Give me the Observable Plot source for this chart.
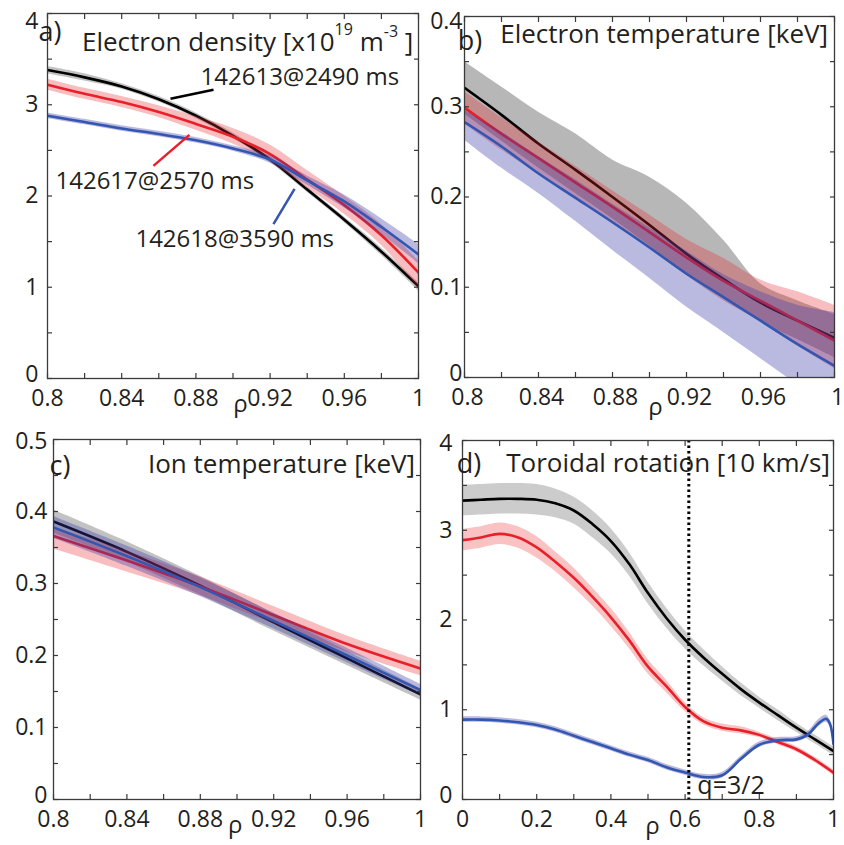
<!DOCTYPE html>
<html><head><meta charset="utf-8">
<script src="https://cdn.jsdelivr.net/npm/d3@7"></script>
<script src="https://cdn.jsdelivr.net/npm/@observablehq/plot@0.6"></script>
<style>
body{margin:0;background:#fff;}
#wrap{position:relative;width:844px;height:845px;overflow:hidden;background:#fff;}
.panel{position:absolute;}
</style></head><body><div id="wrap"></div>
<script>
// ---------- Data ----------
// a) Electron density [x10^19 m^-3]
const rhoA = [0.80,0.82,0.84,0.86,0.88,0.90,0.92,0.94,0.96,0.98,1.00];
const neBlack   = [3.38,3.30,3.20,3.06,2.88,2.66,2.40,2.07,1.74,1.39,1.01];
const neBlackLo = [3.34,3.26,3.17,3.03,2.85,2.63,2.37,2.04,1.71,1.35,0.96];
const neBlackHi = [3.42,3.34,3.23,3.09,2.91,2.69,2.43,2.10,1.77,1.43,1.05];
const neRed     = [3.22,3.12,3.03,2.92,2.79,2.65,2.46,2.18,1.90,1.57,1.16];
const neRedLo   = [3.16,3.06,2.97,2.86,2.72,2.57,2.37,2.09,1.80,1.46,0.99];
const neRedHi   = [3.28,3.18,3.09,2.99,2.87,2.74,2.56,2.28,2.00,1.69,1.29];
const neBlue    = [2.88,2.81,2.74,2.68,2.61,2.52,2.40,2.17,1.94,1.66,1.36];
const neBlueLo  = [2.85,2.78,2.71,2.65,2.58,2.49,2.36,2.12,1.87,1.58,1.26];
const neBlueHi  = [2.91,2.84,2.77,2.71,2.64,2.55,2.44,2.22,2.01,1.75,1.47];

// b) Electron temperature [keV]
const rhoB = [0.80,0.82,0.84,0.86,0.88,0.90,0.92,0.94,0.96,0.98,1.00];
const teBlack   = [0.321,0.291,0.259,0.230,0.200,0.169,0.137,0.109,0.083,0.063,0.044];
const teBlackLo = [0.292,0.262,0.232,0.204,0.176,0.146,0.115,0.087,0.062,0.042,0.022];
const teBlackHi = [0.350,0.322,0.294,0.270,0.241,0.222,0.193,0.152,0.104,0.085,0.070];
const teRed     = [0.299,0.270,0.243,0.216,0.189,0.161,0.133,0.107,0.085,0.063,0.041];
const teRedLo   = [0.281,0.252,0.225,0.198,0.171,0.143,0.113,0.085,0.062,0.035,0.010];
const teRedHi   = [0.317,0.288,0.261,0.234,0.207,0.180,0.153,0.132,0.108,0.095,0.080];
const teBlue    = [0.283,0.256,0.226,0.199,0.172,0.144,0.115,0.089,0.063,0.037,0.013];
const teBlueLo  = [0.263,0.232,0.204,0.173,0.141,0.110,0.078,0.050,0.021,-0.008,-0.036];
const teBlueHi  = [0.296,0.272,0.245,0.219,0.192,0.166,0.140,0.114,0.095,0.080,0.072];

// c) Ion temperature [keV]
const rhoC = [0.80,0.84,0.88,0.92,0.96,1.00];
const tiBlack   = [0.386,0.344,0.297,0.246,0.196,0.146];
const tiBlackLo = [0.370,0.330,0.284,0.234,0.186,0.138];
const tiBlackHi = [0.402,0.358,0.310,0.258,0.206,0.154];
const tiRed     = [0.366,0.332,0.296,0.256,0.216,0.182];
const tiRedLo   = [0.348,0.316,0.283,0.244,0.205,0.172];
const tiRedHi   = [0.378,0.345,0.309,0.268,0.227,0.192];
const tiBlue    = [0.378,0.338,0.295,0.248,0.200,0.152];
const tiBlueLo  = [0.363,0.324,0.282,0.237,0.190,0.144];
const tiBlueHi  = [0.393,0.352,0.308,0.259,0.210,0.160];

// d) Toroidal rotation [10 km/s]
const rhoD = [0,0.05,0.10,0.15,0.20,0.25,0.30,0.35,0.40,0.45,0.50,0.55,0.60,0.65,0.70,0.75,0.80,0.85,0.90,0.95,1.00];
const vBlack     = [3.33,3.34,3.35,3.35,3.34,3.30,3.22,3.07,2.88,2.62,2.30,2.02,1.78,1.58,1.40,1.23,1.08,0.94,0.80,0.67,0.54];
const vBlackHalf = [0.17,0.17,0.17,0.17,0.17,0.16,0.15,0.15,0.14,0.13,0.12,0.11,0.10,0.09,0.08,0.07,0.06,0.06,0.05,0.05,0.05];
const vRed       = [2.89,2.92,2.96,2.92,2.81,2.65,2.47,2.26,2.03,1.77,1.48,1.26,1.03,0.87,0.80,0.77,0.72,0.64,0.56,0.44,0.30];
const vRedHalf   = [0.12,0.12,0.12,0.12,0.12,0.11,0.11,0.10,0.10,0.09,0.08,0.07,0.05,0.04,0.04,0.04,0.03,0.03,0.03,0.03,0.03];
const rhoDBlue   = [0,0.05,0.10,0.15,0.20,0.25,0.30,0.35,0.40,0.45,0.50,0.55,0.60,0.65,0.70,0.75,0.80,0.85,0.90,0.93,0.96,0.98,0.99,1.00];
const vBlue      = [0.89,0.89,0.88,0.86,0.83,0.78,0.71,0.64,0.57,0.50,0.44,0.36,0.30,0.25,0.27,0.45,0.61,0.66,0.67,0.72,0.85,0.90,0.85,0.62];
const vBlueHalf  = [0.03,0.03,0.03,0.03,0.03,0.03,0.03,0.03,0.03,0.03,0.03,0.03,0.03,0.03,0.03,0.03,0.03,0.03,0.03,0.03,0.04,0.04,0.04,0.04];

// Tick values
const xTicksFine = [0.8,0.84,0.88,0.92,0.96,1];
const xMinorFine = [0.8,0.82,0.84,0.86,0.88,0.9,0.92,0.94,0.96,0.98,1];
const yTicksA = [0,1,2,3,4];
const yMinorA = [0,0.5,1,1.5,2,2.5,3,3.5,4];
const yTicksB = [0,0.1,0.2,0.3,0.4];
const yMinorB = [0,0.05,0.1,0.15,0.2,0.25,0.3,0.35,0.4];
const yTicksC = [0,0.1,0.2,0.3,0.4,0.5];
const yMinorC = [0,0.05,0.1,0.15,0.2,0.25,0.3,0.35,0.4,0.45,0.5];
const xTicksD = [0,0.2,0.4,0.6,0.8,1];
const xMinorD = [0,0.1,0.2,0.3,0.4,0.5,0.6,0.7,0.8,0.9,1];
const yTicksD = [0,1,2,3,4];
const yMinorD = [0,0.5,1,1.5,2,2.5,3,3.5,4];

// Annotations (data units)
const shotLabels = [
  {rho:0.8825, n:3.30, t:"142613@2490 ms"},
  {rho:0.8043, n:2.16, t:"142617@2570 ms"},
  {rho:0.8474, n:1.53, t:"142618@3590 ms"}
];
const shotLeaders = [
  {x1:0.8663, y1:3.066, x2:0.8895, y2:3.165, c:"#000000"},
  {x1:0.8571, y1:2.330, x2:0.8765, y2:2.670, c:"#e8202a"},
  {x1:0.9218, y1:1.692, x2:0.9332, y2:2.077, c:"#3356b0"}
];
const qSurface = [0.61];
const qLabel = [{rho: 0.633, v: 0.15, t: "q=3/2"}];

// ---------- Styling ----------
const FONT = "'Open Sans', sans-serif";
const INK = "#231f20";
const AX = "#3a3a3a";
const BLACK = "#000000", RED = "#e8202a", BLUE = "#3356b0";
const GRAYBAND = "#999999", REDBAND = "#e8262a", BLUEBAND = "#3a3aa8";

function rows(rho, v, lo, hi) {
  return rho.map((r, i) => ({rho: r, v: v[i], lo: lo[i], hi: hi[i]}));
}

function makePanel(cfg) {
  const marks = [];
  for (const s of cfg.series) {
    const data = rows(s.rho, s.v, s.lo, s.hi);
    marks.push(Plot.areaY(data, {x: "rho", y1: "lo", y2: "hi", fill: s.band, fillOpacity: s.op, curve: "catmull-rom", clip: true}));
    marks.push(Plot.line(data, {x: "rho", y: "v", stroke: s.color, strokeWidth: 2.6, curve: "catmull-rom", clip: true}));
  }
  if (cfg.extra) marks.push(...cfg.extra);
  const tk = {tickSize: 5, inset: 5, fill: "none", stroke: AX, strokeWidth: 1.2, label: null};
  const yBot = cfg.yTicks.slice(0, 1), yMid = cfg.yTicks.slice(1, -1), yTop = cfg.yTicks.slice(-1);
  const lab = {anchor: "left", tickSize: 0, tickPadding: cfg.yPad, tickFormat: d => String(d), fill: INK, label: null, fontSize: 23};
  marks.push(
    Plot.axisX({anchor: "bottom", ticks: cfg.xMinor, ...tk}),
    Plot.axisX({anchor: "top", ticks: cfg.xMinor, ...tk}),
    Plot.axisY({anchor: "left", ticks: cfg.yMinor, ...tk}),
    Plot.axisY({anchor: "right", ticks: cfg.yMinor, ...tk}),
    Plot.axisX({anchor: "bottom", ticks: cfg.xTicks, tickSize: 0, tickPadding: 11, dx: cfg.xDx || 0, tickFormat: d => String(d), fill: INK, label: null, fontSize: 23}),
    Plot.axisY({ticks: yBot, ...lab, dy: -4}),
    Plot.axisY({ticks: yMid, ...lab}),
    Plot.axisY({ticks: yTop, ...lab, dy: cfg.topDy}),
    Plot.frame({stroke: AX, strokeWidth: 1.3}),
    Plot.text([{rho: cfg.rhoX, t: "ρ"}], {x: "rho", text: "t", frameAnchor: "bottom", dy: cfg.rhoDy, fontSize: 24, fill: INK})
  );
  const svg = Plot.plot({
    width: cfg.width, height: cfg.height,
    marginTop: cfg.m[0], marginRight: cfg.m[1], marginBottom: cfg.m[2], marginLeft: cfg.m[3],
    x: {domain: cfg.xDomain},
    y: {domain: cfg.yDomain},
    style: {fontFamily: FONT, fontSize: "23px", color: INK, background: "transparent", overflow: "hidden"},
    marks
  });
  svg.classList.add("panel");
  svg.style.left = cfg.left + "px";
  svg.style.top = cfg.top + "px";
  svg.style.maxWidth = "none";
  const s = d3.select(svg);
  s.append("text").attr("x", cfg.tag[1]).attr("y", cfg.tag[2])
    .attr("font-family", FONT).attr("font-size", 27).attr("fill", INK).text(cfg.tag[0]);
  const t = s.append("text").attr("x", cfg.title.x).attr("y", cfg.title.y)
    .attr("font-family", FONT).attr("font-size", 26).attr("fill", INK)
    .attr("text-anchor", cfg.title.anchor);
  for (const part of cfg.title.parts) {
    const ts = t.append("tspan").text(part.t);
    if (part.sup) ts.attr("font-size", 16).attr("dy", part.dy);
    else if (part.dy) ts.attr("dy", part.dy);
  }
  document.getElementById("wrap").appendChild(svg);
}

// a)
makePanel({
  left: 0, top: 0, width: 432, height: 420, m: [13, 14, 42, 47],
  xDomain: [0.8, 1], yDomain: [0, 4],
  xTicks: xTicksFine, xMinor: xMinorFine, yTicks: yTicksA, yMinor: yMinorA, yPad: 9, topDy: 8,
  rhoX: 0.904, rhoDy: 33,
  series: [
    {rho: rhoA, v: neBlack, lo: neBlackLo, hi: neBlackHi, color: BLACK, band: GRAYBAND, op: 0.6},
    {rho: rhoA, v: neRed, lo: neRedLo, hi: neRedHi, color: RED, band: REDBAND, op: 0.3},
    {rho: rhoA, v: neBlue, lo: neBlueLo, hi: neBlueHi, color: BLUE, band: BLUEBAND, op: 0.35}
  ],
  extra: [
    Plot.link(shotLeaders, {x1: "x1", y1: "y1", x2: "x2", y2: "y2", stroke: "c", strokeWidth: 2.5}),
    Plot.text(shotLabels, {x: "rho", y: "n", text: "t", textAnchor: "start", fontSize: 24, fill: INK})
  ],
  tag: ["a)", 50, 41],
  title: {x: 82, y: 51, anchor: "start", parts: [
    {t: "Electron density [x10"}, {t: "19", sup: true, dy: -16}, {t: " m", dy: 16},
    {t: "-3", sup: true, dy: -14}, {t: " ]", dy: 14}
  ]}
});

// b)
makePanel({
  left: 420, top: 0, width: 424, height: 420, m: [16, 10, 43, 44],
  xDomain: [0.8, 1], yDomain: [0, 0.4],
  xTicks: xTicksFine, xMinor: xMinorFine, yTicks: yTicksB, yMinor: yMinorB, yPad: 2, topDy: 5, xDx: 3,
  rhoX: 0.9032, rhoDy: 37,
  series: [
    {rho: rhoB, v: teBlack, lo: teBlackLo, hi: teBlackHi, color: BLACK, band: GRAYBAND, op: 0.7},
    {rho: rhoB, v: teRed, lo: teRedLo, hi: teRedHi, color: RED, band: REDBAND, op: 0.3},
    {rho: rhoB, v: teBlue, lo: teBlueLo, hi: teBlueHi, color: BLUE, band: BLUEBAND, op: 0.35}
  ],
  tag: ["b)", 50, 50],
  title: {x: 408, y: 43, anchor: "end", parts: [{t: "Electron temperature [keV]"}]}
});

// c)
makePanel({
  left: 0, top: 420, width: 432, height: 425, m: [19, 12, 46, 53],
  xDomain: [0.8, 1], yDomain: [0, 0.5],
  xTicks: xTicksFine, xMinor: xMinorFine, yTicks: yTicksC, yMinor: yMinorC, yPad: 6, topDy: 2,
  rhoX: 0.899, rhoDy: 33,
  series: [
    {rho: rhoC, v: tiBlack, lo: tiBlackLo, hi: tiBlackHi, color: BLACK, band: GRAYBAND, op: 0.6},
    {rho: rhoC, v: tiRed, lo: tiRedLo, hi: tiRedHi, color: RED, band: REDBAND, op: 0.3},
    {rho: rhoC, v: tiBlue, lo: tiBlueLo, hi: tiBlueHi, color: BLUE, band: BLUEBAND, op: 0.35}
  ],
  tag: ["c)", 60, 55],
  title: {x: 415, y: 53, anchor: "end", parts: [{t: "Ion temperature [keV]"}]}
});

// d)
makePanel({
  left: 422, top: 420, width: 422, height: 425, m: [20, 11, 46, 40],
  xDomain: [0, 1], yDomain: [0, 4],
  xTicks: xTicksD, xMinor: xMinorD, yTicks: yTicksD, yMinor: yMinorD, yPad: 10, topDy: 3,
  rhoX: 0.512, rhoDy: 34,
  series: [
    {rho: rhoD, v: vBlack, lo: vBlack.map((v, i) => v - vBlackHalf[i]), hi: vBlack.map((v, i) => v + vBlackHalf[i]), color: BLACK, band: GRAYBAND, op: 0.5},
    {rho: rhoD, v: vRed, lo: vRed.map((v, i) => v - vRedHalf[i]), hi: vRed.map((v, i) => v + vRedHalf[i]), color: RED, band: REDBAND, op: 0.28},
    {rho: rhoDBlue, v: vBlue, lo: vBlue.map((v, i) => v - vBlueHalf[i]), hi: vBlue.map((v, i) => v + vBlueHalf[i]), color: BLUE, band: BLUEBAND, op: 0.35}
  ],
  extra: [
    Plot.ruleX(qSurface, {stroke: "#000", strokeWidth: 3, strokeDasharray: "2.5,3"}),
    Plot.text(qLabel, {x: "rho", y: "v", text: "t", textAnchor: "start", fontSize: 25, fill: INK})
  ],
  tag: ["d)", 47, 53],
  title: {x: 408, y: 52, anchor: "end", parts: [{t: "Toroidal rotation [10 km/s]"}]}
});
</script></body></html>
